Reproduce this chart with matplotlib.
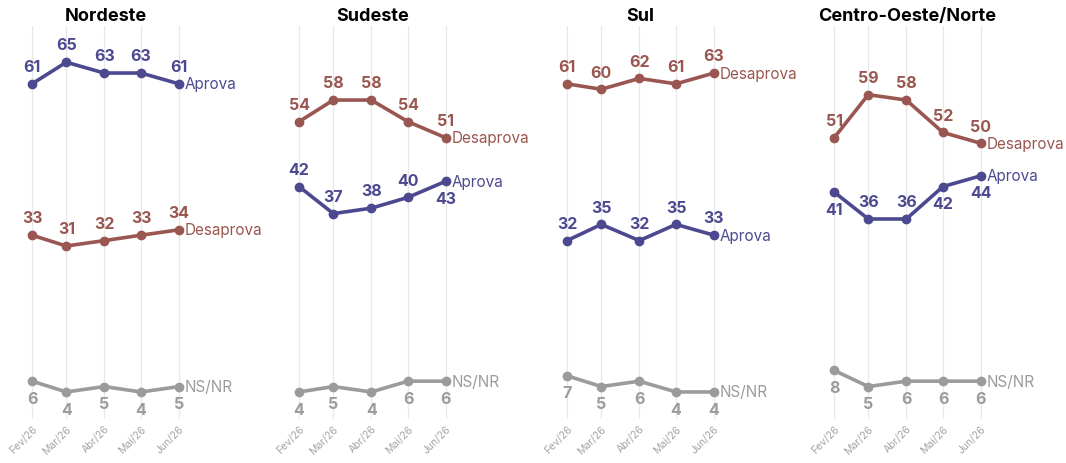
from datetime import date, timedelta

import matplotlib
matplotlib.use("Agg")
import matplotlib.pyplot as plt

plt.rcParams["font.family"] = ["Inter", "DejaVu Sans"]

months = [date(2026, 2, 1), date(2026, 3, 1), date(2026, 4, 1), date(2026, 5, 1), date(2026, 6, 1)]
month_labels = ["Fev/26", "Mar/26", "Abr/26", "Mai/26", "Jun/26"]
regions = ["Nordeste", "Sudeste", "Sul", "Centro-Oeste/Norte"]

aprova = [
    [61, 65, 63, 63, 61],
    [42, 37, 38, 40, 43],
    [32, 35, 32, 35, 33],
    [41, 36, 36, 42, 44],
]
desaprova = [
    [33, 31, 32, 33, 34],
    [54, 58, 58, 54, 51],
    [61, 60, 62, 61, 63],
    [51, 59, 58, 52, 50],
]
nsnr = [
    [6, 4, 5, 4, 5],
    [4, 5, 4, 6, 6],
    [7, 5, 6, 4, 4],
    [8, 5, 6, 6, 6],
]

# where each value label sits: above (1) or below (-1) its point
aprova_pos = [
    [1, 1, 1, 1, 1],
    [1, 1, 1, 1, -1],
    [1, 1, 1, 1, 1],
    [-1, 1, 1, -1, -1],
]

C_APROVA = "#4c4990"
C_DESAP = "#9a5650"
C_NS = "#9b9b9b"

fig = plt.figure(figsize=(10.66, 4.64), dpi=100)
W, H = 1066, 464

px_per_day = 145 / 120
first_px = [33, 300, 568, 835]
top_px, bot_px = 27, 420
ymin, ymax = -1, 71.7

for i, name in enumerate(regions):
    pad = 12
    left = (first_px[i] - pad) / W
    width = (145 + 2 * pad) / W
    ax = fig.add_axes([left, (H - bot_px) / H, width, (bot_px - top_px) / H])
    d0 = months[0] - timedelta(days=pad / px_per_day)
    d1 = months[-1] + timedelta(days=pad / px_per_day)
    ax.set_xlim(d0, d1)
    ax.set_ylim(ymin, ymax)
    for s in ax.spines.values():
        s.set_visible(False)
    ax.set_yticks([])
    ax.set_xticks(months)
    ax.set_xticklabels(month_labels, rotation=45, ha="right", rotation_mode="anchor",
                       fontsize=7.5, color="#a5a5a5")
    ax.tick_params(axis="x", length=0, pad=3)
    ax.grid(axis="x", color="#e8e8e8", lw=0.9)
    ax.set_axisbelow(True)
    ax.set_title(name, fontsize=13, fontweight="bold", pad=4, y=1.0)

    series = [
        (aprova[i], C_APROVA, "Aprova", aprova_pos[i]),
        (desaprova[i], C_DESAP, "Desaprova", [1] * 5),
        (nsnr[i], C_NS, "NS/NR", [-1] * 5),
    ]
    for vals, col, lab, pos in series:
        ax.plot(months, vals, color=col, lw=2.6, marker="o", ms=6, zorder=3,
                solid_capstyle="round", clip_on=False)
        for d, v, p in zip(months, vals, pos):
            ax.annotate(str(v), (d, v), xytext=(0, 7 * p), textcoords="offset points",
                        ha="center", va="bottom" if p > 0 else "top",
                        fontsize=11.5, fontweight="bold", color=col)
        ax.annotate(lab, (months[-1], vals[-1]), xytext=(4, 0), textcoords="offset points",
                    ha="left", va="center", fontsize=11, color=col, annotation_clip=False)

fig.savefig("out.png", dpi=100)
